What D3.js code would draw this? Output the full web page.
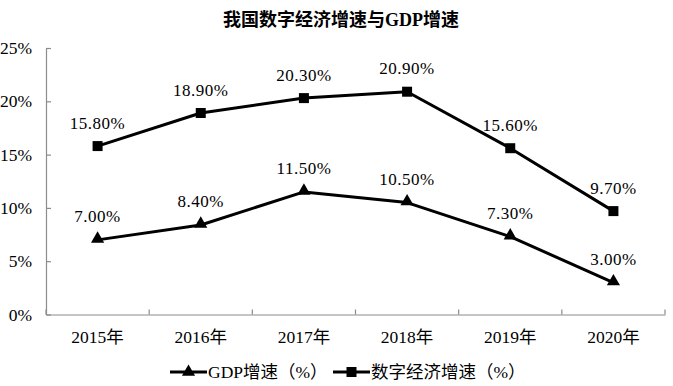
<!DOCTYPE html>
<html>
<head>
<meta charset="utf-8">
<script src="https://cdn.jsdelivr.net/npm/d3@7"></script>
<style>
  body { margin: 0; background: #fff; }
  text { font-family: "Liberation Serif", "Noto Sans CJK SC", serif; fill: #000; }
</style>
</head>
<body>
<svg id="chart" width="673" height="386"></svg>
<script>
const categories = ["2015年", "2016年", "2017年", "2018年", "2019年", "2020年"];
const gdpGrowth = [7.0, 8.4, 11.5, 10.5, 7.3, 3.0];
const digitalGrowth = [15.8, 18.9, 20.3, 20.9, 15.6, 9.7];
const yTicks = [0, 5, 10, 15, 20, 25];
const seriesNames = ["GDP增速（%）", "数字经济增速（%）"];
const title = "我国数字经济增速与GDP增速";

const svg = d3.select("#chart");
const plotLeft = 46, plotRight = 665, plotTop = 48, plotBottom = 314.5;

const x = d3.scaleBand().domain(categories).range([plotLeft, plotRight]);
const y = d3.scaleLinear().domain([0, 25]).range([plotBottom, plotTop]);
const axisColor = "#8c8c8c";

// title
svg.append("text").attr("x", 341).attr("y", 20).attr("text-anchor", "middle")
  .attr("dominant-baseline", "central")
  .style("font-size", "18px").style("font-weight", "bold").text(title);

// y axis
const yAxis = d3.axisLeft(y).tickValues(yTicks).tickSizeInner(-5).tickSizeOuter(0)
  .tickFormat(d => d + "%").tickPadding(14);
const gy = svg.append("g").attr("transform", `translate(${plotLeft},0)`).call(yAxis);
gy.select(".domain").attr("stroke", axisColor).attr("stroke-width", 1.2);
gy.selectAll(".tick line").attr("stroke", axisColor).attr("stroke-width", 1.2);
gy.selectAll(".tick text").style("font-size", "17.5px").style("font-family", "Liberation Serif");

// x axis
const xAxis = d3.axisBottom(x).tickSize(0).tickPadding(16);
const gx = svg.append("g").attr("transform", `translate(0,${plotBottom})`).call(xAxis);
gx.select(".domain").attr("stroke", axisColor).attr("stroke-width", 1.2);
gx.selectAll(".tick text").style("font-size", "17.5px");
// boundary ticks (inside)
const boundaries = categories.map(c => x(c)).concat([x(categories[categories.length - 1]) + x.bandwidth()]);
gx.selectAll(".bt").data(boundaries).enter().append("line")
  .attr("x1", d => d).attr("x2", d => d).attr("y1", 0).attr("y2", -5)
  .attr("stroke", axisColor).attr("stroke-width", 1.2);

const cx = c => x(c) + x.bandwidth() / 2;
const line = d3.line().x((d, i) => cx(categories[i])).y(d => y(d));

const tri = d3.symbol().type(d3.symbolTriangle).size(75);
const sq = d3.symbol().type(d3.symbolSquare).size(100);

function drawSeries(vals, symbol, triangle) {
  svg.append("path").datum(vals).attr("d", line).attr("fill", "none")
    .attr("stroke", "#000").attr("stroke-width", 3).attr("stroke-linejoin", "round");
  svg.selectAll(null).data(vals).enter().append("path")
    .attr("d", symbol)
    .attr("transform", (d, i) => `translate(${cx(categories[i])},${y(d) + (triangle ? -1 : 0)})`)
    .attr("fill", "#000");
  svg.selectAll(null).data(vals).enter().append("text")
    .attr("x", (d, i) => cx(categories[i]))
    .attr("y", d => y(d) - 23)
    .attr("text-anchor", "middle").attr("dominant-baseline", "central")
    .style("font-size", "17px").style("letter-spacing", "0.5px")
    .text(d => d.toFixed(2) + "%");
}
drawSeries(gdpGrowth, tri, true);
drawSeries(digitalGrowth, sq, false);

// legend
const legendItems = [
  { name: seriesNames[0], sym: tri, x0: 170 },
  { name: seriesNames[1], sym: sq, x0: 333 }
];
const ly = 372;
legendItems.forEach(it => {
  const g = svg.append("g");
  g.append("line").attr("x1", it.x0).attr("x2", it.x0 + 37).attr("y1", ly).attr("y2", ly)
    .attr("stroke", "#000").attr("stroke-width", 3);
  g.append("path").attr("d", it.sym).attr("transform", `translate(${it.x0 + 18.5},${ly})`).attr("fill", "#000");
  g.append("text").attr("x", it.x0 + 38).attr("y", ly).attr("dominant-baseline", "central")
    .style("font-size", "17.5px").text(it.name);
});
</script>
</body>
</html>
